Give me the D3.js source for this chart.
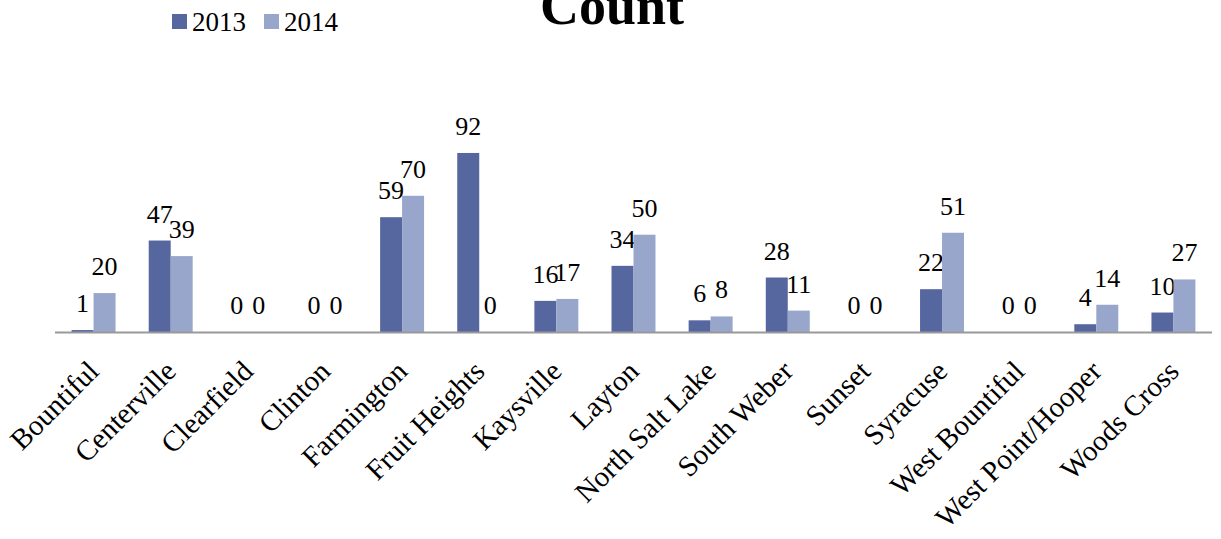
<!DOCTYPE html>
<html><head><meta charset="utf-8">
<script src="https://cdn.jsdelivr.net/npm/d3@7"></script>
<style>body{margin:0;background:#fff}svg{display:block}text{font-family:"Liberation Serif","Times New Roman",serif}</style>
</head><body>
<svg id="c" width="1221" height="539"></svg>
<script>
const categories = ["Bountiful","Centerville","Clearfield","Clinton","Farmington","Fruit Heights","Kaysville","Layton","North Salt Lake","South Weber","Sunset","Syracuse","West Bountiful","West Point/Hooper","Woods Cross"];
const seriesNames = ["2013","2014"];
const values2013 = [1,47,0,0,59,92,16,34,6,28,0,22,0,4,10];
const values2014 = [20,39,0,0,70,0,17,50,8,11,0,51,0,14,27];
const colors = ["#55679e","#98a6cb"];

const svg = d3.select("#c");
const x0 = d3.scaleBand().domain(categories).range([55,1212]).paddingInner(0.43).paddingOuter(0.215);
const x1 = d3.scaleBand().domain(seriesNames).range([0,x0.bandwidth()]);
const y = d3.scaleLinear().domain([0,100]).range([332,137.4]);
const data = [values2013, values2014];

const g = svg.append("g");
seriesNames.forEach((s,si)=>{
  g.selectAll(".b"+si).data(categories).enter().append("rect")
    .attr("x",c=>x0(c)+x1(s)).attr("width",x1.bandwidth())
    .attr("y",(c,i)=>y(data[si][i])).attr("height",(c,i)=>y(0)-y(data[si][i]))
    .attr("fill",colors[si]);
  g.selectAll(".l"+si).data(categories).enter().append("text")
    .attr("x",c=>x0(c)+x1(s)+x1.bandwidth()/2)
    .attr("y",(c,i)=>y(data[si][i])-18)
    .attr("text-anchor","middle").attr("font-size",26).attr("fill","#000")
    .text((c,i)=>data[si][i]);
});

// axis line
svg.append("line").attr("x1",55).attr("x2",1212).attr("y1",332.5).attr("y2",332.5)
  .attr("stroke","#999").attr("stroke-width",2);

// category labels
svg.selectAll(".cat").data(categories).enter().append("text")
  .attr("transform",c=>`translate(${x0(c)+x0.bandwidth()/2+7},373) rotate(-45)`)
  .attr("text-anchor","end").attr("font-size",29).attr("fill","#000")
  .text(c=>c);

// title
svg.append("text").attr("x",612).attr("y",24).attr("text-anchor","middle")
  .attr("font-size",54).attr("font-weight","bold").text("Count");

// legend
const leg = svg.append("g");
const legX = [172,264];
seriesNames.forEach((s,i)=>{
  leg.append("rect").attr("x",legX[i]).attr("y",14).attr("width",15).attr("height",15).attr("fill",colors[i]);
  leg.append("text").attr("x",legX[i]+20).attr("y",31).attr("font-size",27).text(s);
});
</script>
</body></html>
